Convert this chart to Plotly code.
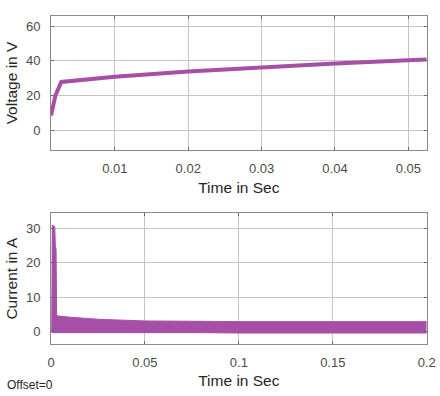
import plotly.graph_objects as go

# Voltage (top panel)
v_time = [0.0013, 0.0016, 0.0019, 0.0027, 0.005, 0.01, 0.02, 0.03, 0.04, 0.05, 0.0525]
v_volt = [8.5, 15.0, 20.0, 27.8, 28.8, 30.8, 33.8, 36.3, 38.5, 40.3, 40.7]

# Current (bottom panel) - ripple band envelope
i_time  = [0.0, 0.0004, 0.0007, 0.0020, 0.0023, 0.0027, 0.0030, 0.01, 0.025, 0.05, 0.08, 0.1, 0.15, 0.2]
i_upper = [0.0, 0.5, 31.0, 30.5, 25.0, 24.0, 4.6, 4.2, 3.6, 3.1, 3.0, 2.9, 2.9, 2.9]
i_lower = [0.0, -0.2, -0.3, -0.3, -0.3, -0.3, -0.2, -0.1, -0.2, -0.3, -0.3, -0.4, -0.4, -0.4]

top_xticks = [0.01, 0.02, 0.03, 0.04, 0.05]
top_yticks = [0, 20, 40, 60]
bot_xticks = [0, 0.05, 0.1, 0.15, 0.2]
bot_xticklabels = ["0", "0.05", "0.1", "0.15", "0.2"]
bot_yticks = [0, 10, 20, 30]

COLOR = "#a64fa6"
FONT = "Liberation Sans, Arial, sans-serif"

fig = go.Figure()
fig.add_trace(go.Scatter(x=v_time, y=v_volt, mode="lines",
                         line=dict(color=COLOR, width=4), xaxis="x", yaxis="y",
                         showlegend=False))
fig.add_trace(go.Scatter(x=i_time, y=i_lower, mode="lines",
                         line=dict(color=COLOR, width=1), xaxis="x2", yaxis="y2",
                         showlegend=False))
fig.add_trace(go.Scatter(x=i_time, y=i_upper, mode="lines", fill="tonexty",
                         fillcolor=COLOR,
                         line=dict(color=COLOR, width=1), xaxis="x2", yaxis="y2",
                         showlegend=False))

axis_common = dict(showline=True, linecolor="#8a8a8a", linewidth=1, mirror="ticks",
                   ticks="inside", ticklen=3, tickcolor="#6a6a6a", automargin=False,
                   showgrid=True, gridcolor="#c4c4c4", gridwidth=1, zeroline=False,
                   tickfont=dict(family=FONT, size=13, color="#4a4a4a"))

title_font = dict(family=FONT, size=15.5, color="#262626")

fig.update_layout(
    width=440, height=396,
    margin=dict(l=0, r=0, t=0, b=0, autoexpand=False),
    paper_bgcolor="white", plot_bgcolor="white",
    font=dict(family=FONT),
    xaxis=dict(domain=[0.1159, 0.9698], range=[0.0013, 0.0525], tickvals=top_xticks,
               ticktext=["0.01", "0.02", "0.03", "0.04", "0.05"],
               anchor="y", ticklabelstandoff=6,
               title=dict(text="Time in Sec", font=title_font, standoff=7), **axis_common),
    yaxis=dict(domain=[0.6212, 0.9596], range=[-11.4, 65.8], tickvals=top_yticks,
               anchor="x", ticklabelstandoff=7,
               title=dict(text="Voltage in V", font=title_font, standoff=4), **axis_common),
    xaxis2=dict(domain=[0.1159, 0.9698], range=[0, 0.2], tickvals=bot_xticks,
                ticktext=bot_xticklabels, anchor="y2", ticklabelstandoff=6,
                title=dict(text="Time in Sec", font=title_font, standoff=6), **axis_common),
    yaxis2=dict(domain=[0.1313, 0.4613], range=[-3.6, 34.4], tickvals=bot_yticks,
                anchor="x2", ticklabelstandoff=7,
                title=dict(text="Current in A", font=title_font, standoff=4), **axis_common),
    annotations=[dict(text="Offset=0", x=5 / 440, y=1 - 385 / 396, xref="paper", yref="paper",
                      xanchor="left", yanchor="middle", showarrow=False,
                      font=dict(family=FONT, size=12, color="#262626"))],
)

fig.write_html("out.html", config={"displayModeBar": False},
               post_script="document.body.style.margin='0';document.body.style.overflow='hidden';")
